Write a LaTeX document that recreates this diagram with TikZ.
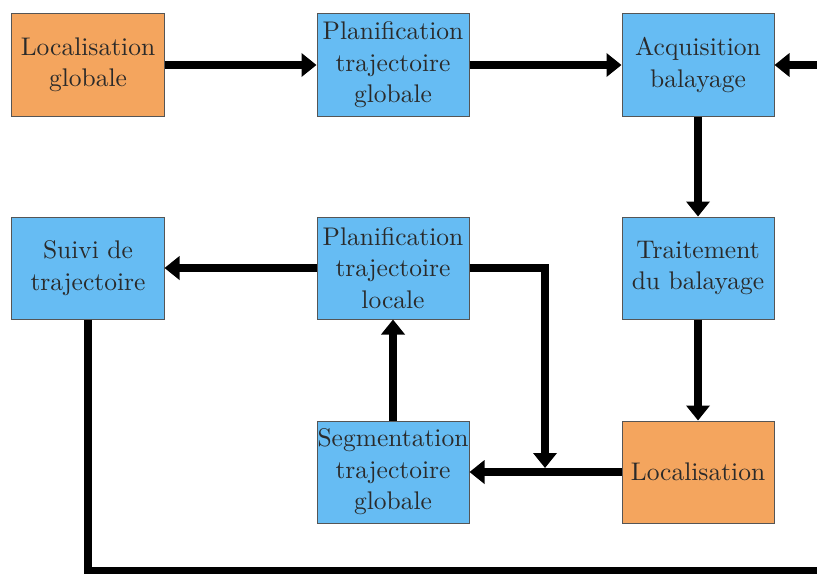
\documentclass[tikz,border=0pt]{standalone}
\usetikzlibrary{arrows.meta}
\definecolor{boxorange}{HTML}{F4A55E}
\definecolor{boxblue}{HTML}{66BCF3}
\definecolor{txt}{HTML}{2A2A2A}
\definecolor{edge}{HTML}{555555}
\begin{document}
\begin{tikzpicture}[x=0.4pt,y=-0.4pt,
  blk/.style={draw=edge,line width=0.4pt,minimum width=60.8pt,minimum height=40.8pt,
    inner sep=0pt,align=center,text=txt,font=\fontsize{10.2}{12.6}\selectfont},
  ob/.style={blk,fill=boxorange},
  bb/.style={blk,fill=boxblue},
  conn/.style={line width=3.2pt,draw=black,-{Triangle[length=6pt,width=9.2pt]}}]
\useasboundingbox (0,0) rectangle (817,573);
\node[ob] (A) at (88,65) {Localisation\\globale};
\node[bb] (B) at (393,65) {Planification\\trajectoire\\globale};
\node[bb] (C) at (698,65) {Acquisition\\balayage};
\node[bb] (D) at (698,268) {Traitement\\du balayage};
\node[ob] (E) at (698,472) {\raisebox{-0.8pt}{Localisation}};
\node[bb] (F) at (393,472) {Segmentation\\trajectoire\\globale};
\node[bb] (G) at (393,268) {Planification\\trajectoire\\locale};
\node[bb] (H) at (88,268) {Suivi de\\trajectoire};
\coordinate (j) at (545,468);
\coordinate (k) at (545,268);
\coordinate (bl) at (88,571);
\coordinate (br) at (822,571);
\coordinate (tr) at (822,65);
\draw[conn] (A) -- (B);
\draw[conn] (B) -- (C);
\draw[conn] (C) -- (D);
\draw[conn] (D) -- (E);
\draw[conn] (E) -- (F);
\draw[conn] (F) -- (G);
\draw[conn] (G) -- (H);
\draw[conn] (G.east) -- (k) -- (j);
\draw[conn] (H.south) -- (bl) -- (br) -- (tr) -- (C.east);
\end{tikzpicture}
\end{document}
